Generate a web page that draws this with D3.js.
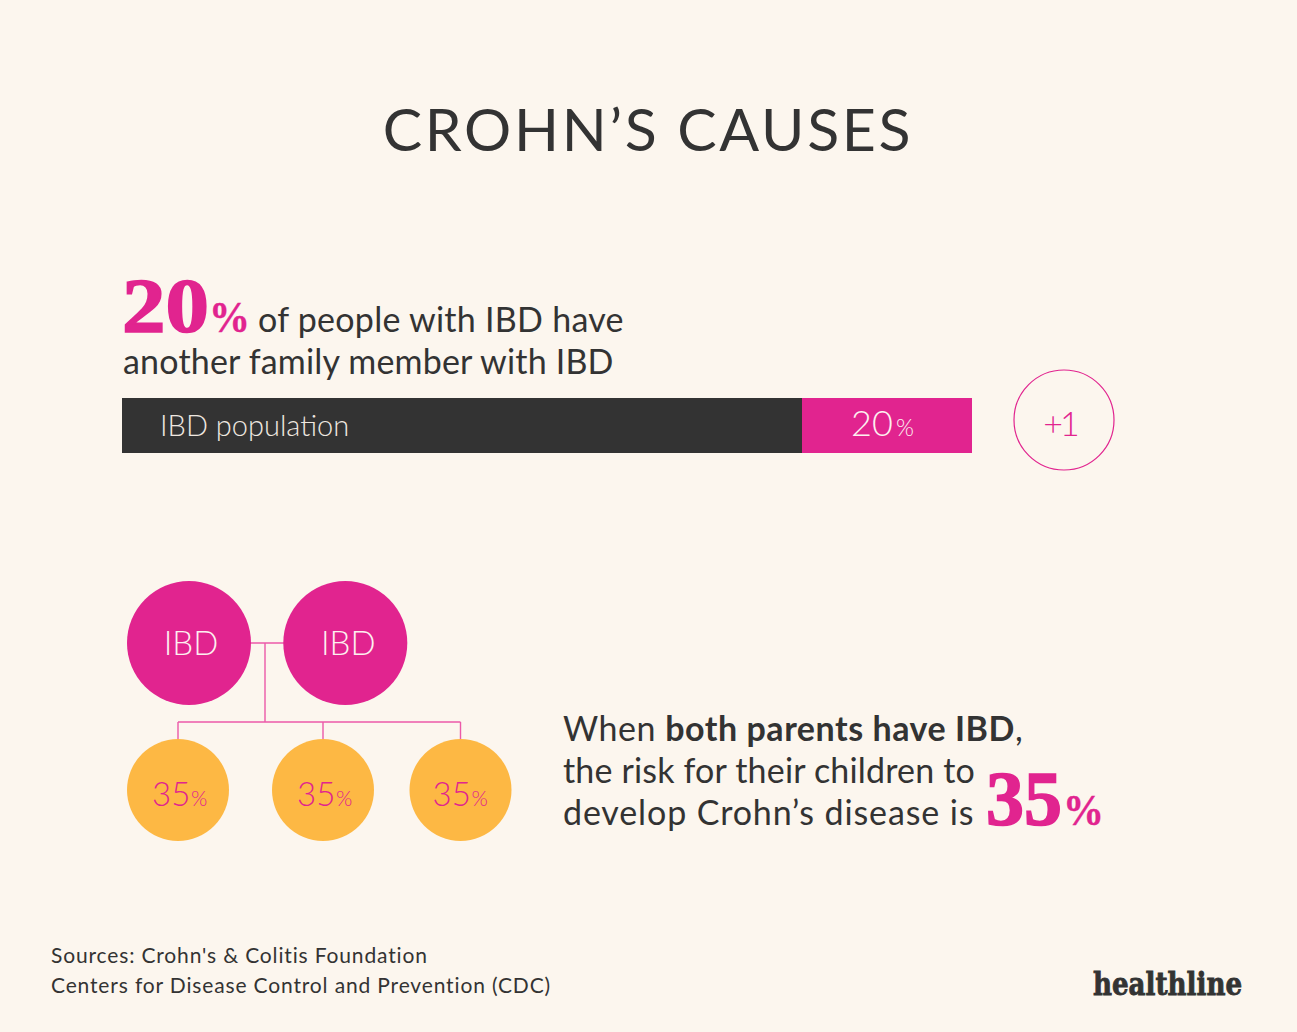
<!DOCTYPE html>
<html><head><meta charset="utf-8">
<script src="https://cdn.jsdelivr.net/npm/d3@7/dist/d3.min.js"></script>
<style>html,body{margin:0;padding:0;background:#fcf6ee}svg{display:block}</style>
</head><body><svg id="c" width="1297" height="1032"></svg>
<script>
const title = "CROHN’S CAUSES";
const barCategories = ["IBD population", "20%"];
const barValues = [80, 20];
const parents = ["IBD", "IBD"];
const children = ["35", "35", "35"];
const sources = ["Sources: Crohn's & Colitis Foundation", "Centers for Disease Control and Prevention (CDC)"];
const PINK="#e1248f", DARK="#333333", ORANGE="#fdb844", LINE="#ec5aa9", CREAM="#fcf6ee";

const svg = d3.select("#c");
svg.append("rect").attr("width",1297).attr("height",1032).attr("fill",CREAM);

function txt(x,y,str,size,opt={}){
  const t = svg.append("text").attr("x",x).attr("y",y).text(str)
    .attr("font-size",size).attr("fill",opt.fill||DARK)
    .attr("font-weight",opt.w||400)
    .attr("font-family",opt.f||"Lato, sans-serif")
    .attr("text-anchor",opt.a||"start")
    .attr("letter-spacing",opt.ls||0);
  if(opt.len) t.attr("textLength",opt.len).attr("lengthAdjust","spacingAndGlyphs");
  if(opt.sw) t.attr("stroke",opt.fill||DARK).attr("stroke-width",opt.sw);
  return t;
}
const SERIF="'Liberation Serif', serif";

txt(648,151,title,59,{a:"middle",w:400,ls:2.7});

// first statement
txt(122,332,"20",78,{f:SERIF,w:700,fill:PINK,len:87,sw:1.6});
txt(209,332,"%",44,{f:SERIF,w:700,fill:PINK,len:41,sw:0.4});
txt(258,332,"of people with IBD have",34,{ls:0.27});
txt(123,374,"another family member with IBD",34,{ls:0.18});

// bar
const x = d3.scaleLinear().domain([0,100]).range([122,972]);
const cum = d3.cumsum(barValues);
svg.selectAll("rect.bar").data(barValues).join("rect").attr("class","bar")
  .attr("x",(d,i)=>x(cum[i]-d)).attr("width",d=>x(d)-x(0))
  .attr("y",398).attr("height",55)
  .attr("fill",(d,i)=>i?PINK:DARK);
txt(160,436,barCategories[0],29,{w:300,fill:"#efe8e0"});
txt(851,436,"20",36,{w:300,fill:"#fdf0f0"});
txt(896,436,"%",23,{w:300,fill:"#fdf0f0"});

// +1 circle
svg.append("circle").attr("cx",1064).attr("cy",420).attr("r",50)
  .attr("fill","none").attr("stroke",PINK).attr("stroke-width",1.2);
txt(1060,436,"+1",34,{a:"middle",w:300,fill:PINK,ls:-3});

// family tree
const parentX = d3.scaleOrdinal().domain([0,1]).range([189,345.3]);
const childX = d3.scaleOrdinal().domain([0,1,2]).range([178,323,460.5]);
const labelShift = [-26,-26,-28];
const py=643, cy=790, busY=722, stemX=265;
const link = d3.path();
link.moveTo(parentX(0),py); link.lineTo(parentX(1),py);
link.moveTo(stemX,py); link.lineTo(stemX,busY);
link.moveTo(childX(0),busY); link.lineTo(childX(2),busY);
children.forEach((d,i)=>{link.moveTo(childX(i),busY);link.lineTo(childX(i),cy);});
svg.append("path").attr("d",link.toString()).attr("fill","none").attr("stroke",LINE).attr("stroke-width",1.4);

svg.selectAll("circle.p").data(parents).join("circle").attr("class","p")
  .attr("cx",(d,i)=>parentX(i)).attr("cy",py).attr("r",62).attr("fill",PINK);
parents.forEach((d,i)=>txt(parentX(i)+(i?3:2),655,d,33,{a:"middle",w:300,fill:"#fdf0f0"}));

svg.selectAll("circle.k").data(children).join("circle").attr("class","k")
  .attr("cx",(d,i)=>childX(i)).attr("cy",cy).attr("r",51).attr("fill",ORANGE);
children.forEach((d,i)=>{
  const lx=childX(i)+labelShift[i];
  txt(lx,806,d,33,{w:300,fill:PINK});
  txt(lx+39,806,"%",21,{w:300,fill:PINK});
});

// second statement
const t1=txt(563,741,"When ",34,{ls:0.53});
t1.append("tspan").attr("font-weight",700).text("both parents have IBD");
t1.append("tspan").text(",");
txt(563,783,"the risk for their children to",34,{ls:0.17});
txt(563,825,"develop Crohn’s disease is",34,{ls:0.87});
txt(986,825,"35",78,{f:SERIF,w:700,fill:PINK,len:76,sw:1.6});
txt(1063,825,"%",44,{f:SERIF,w:700,fill:PINK,len:41,sw:0.4});

// footer
sources.forEach((s,i)=>txt(51,963+i*30,s,21,{ls:0.85}));
txt(1093,995,"healthline",32,{f:"'DejaVu Serif', serif",w:700,len:149,sw:0.9});
</script></body></html>
